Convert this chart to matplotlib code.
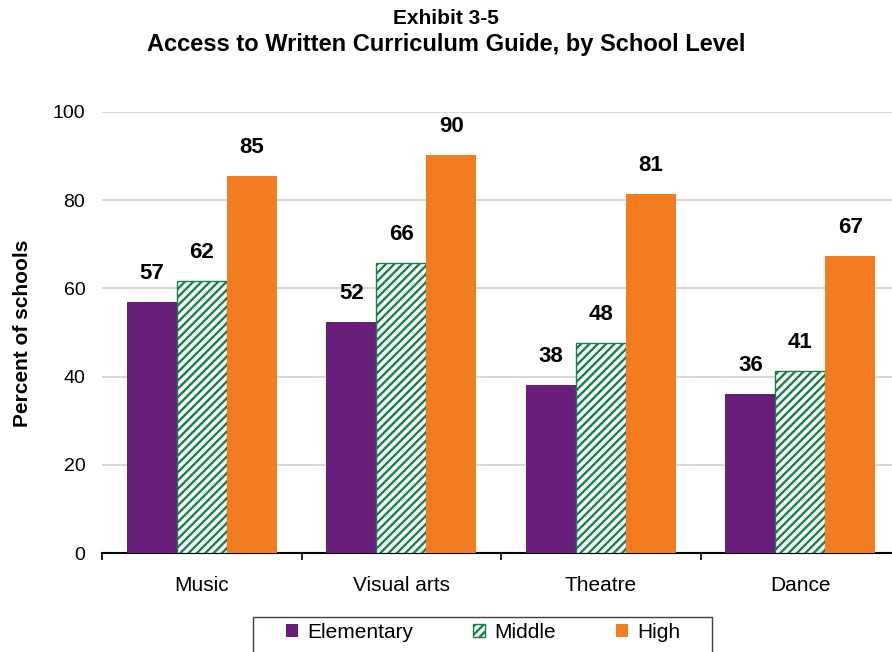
import matplotlib
matplotlib.use("Agg")
import matplotlib.pyplot as plt
from matplotlib.patches import Rectangle
import numpy as np

plt.rcParams['font.family'] = ['Liberation Sans', 'DejaVu Sans']
plt.rcParams['hatch.linewidth'] = 1.7

categories = ["Music", "Visual arts", "Theatre", "Dance"]
levels = ["Elementary", "Middle", "High"]
elementary = [56.9, 52.4, 38.0, 36.1]
middle = [61.6, 65.7, 47.6, 41.2]
high = [85.4, 90.2, 81.3, 67.4]
yticks = [0, 20, 40, 60, 80, 100]

purple = "#681E7A"
green = "#17804A"
orange = "#F47C20"

fig = plt.figure(figsize=(8.92, 6.52), dpi=100)
ax = fig.add_axes([102 / 892, 1 - 553.3 / 652, 798 / 892, 441.6 / 652])

x = np.arange(len(categories))
w = 0.25
bars_e = ax.bar(x - w, elementary, w, color=purple, edgecolor=purple, linewidth=0, zorder=3)
bars_m = ax.bar(x, middle, w, color="white", edgecolor=green, hatch="////", linewidth=1.0, zorder=3)
bars_h = ax.bar(x + w, high, w, color=orange, edgecolor=orange, linewidth=0, zorder=3)

for bars, vals in ((bars_e, elementary), (bars_m, middle), (bars_h, high)):
    for b, v in zip(bars, vals):
        ax.annotate(f"{v:.0f}", (b.get_x() + b.get_width() / 2, v),
                    xytext=(0, 13), textcoords="offset points",
                    ha="center", va="bottom", fontsize=16, fontweight="bold", color="black")

ax.set_xlim(-0.5, 3.5)
ax.set_ylim(0, 100)
ax.set_yticks(yticks)
ax.set_yticklabels([str(t) for t in yticks], fontsize=14)
ax.tick_params(axis="y", length=0, pad=12)
ax.yaxis.grid(True, color="#D9D9D9", linewidth=1.5, zorder=0)
ax.set_axisbelow(True)

ax.set_xticks(np.arange(-0.5, 4.0, 1.0))
ax.set_xticklabels([])
ax.tick_params(axis="x", which="major", length=5, width=1.2, direction="out", color="black")
ax.set_xticks(x, minor=True)
ax.set_xticklabels(categories, minor=True, fontsize=15)
ax.tick_params(axis="x", which="minor", length=0, pad=16)

for s in ("left", "right", "top"):
    ax.spines[s].set_visible(False)
ax.spines["bottom"].set_linewidth(1.5)
ax.spines["bottom"].set_color("black")

fig.text(23 / 892, 1 - 333 / 652, "Percent of schools", rotation=90, ha="center", va="center",
         fontsize=15, fontweight="bold")

fig.text(0.5, 1 - 18 / 652, "Exhibit 3-5", ha="center", va="center", fontsize=15, fontweight="bold")
fig.text(0.5, 1 - 45 / 652, "Access to Written Curriculum Guide, by School Level",
         ha="center", va="center", fontsize=17, fontweight="bold")

# legend box, running past the lower edge of the figure
fig.patches.append(Rectangle((253 / 892, 1 - 665 / 652), (712 - 253) / 892, 48 / 652,
                             transform=fig.transFigure, facecolor="white",
                             edgecolor="#404040", linewidth=1.0))
leg = fig.legend([bars_e[0], bars_m[0], bars_h[0]], levels, ncol=3,
                 loc="center left", bbox_to_anchor=(286 / 892, 1 - 632 / 652),
                 fontsize=15, frameon=False,
                 handlelength=0.58, handleheight=0.58, handletextpad=0.45,
                 columnspacing=2.86, borderpad=0, borderaxespad=0)

fig.savefig("out.png", dpi=100)
